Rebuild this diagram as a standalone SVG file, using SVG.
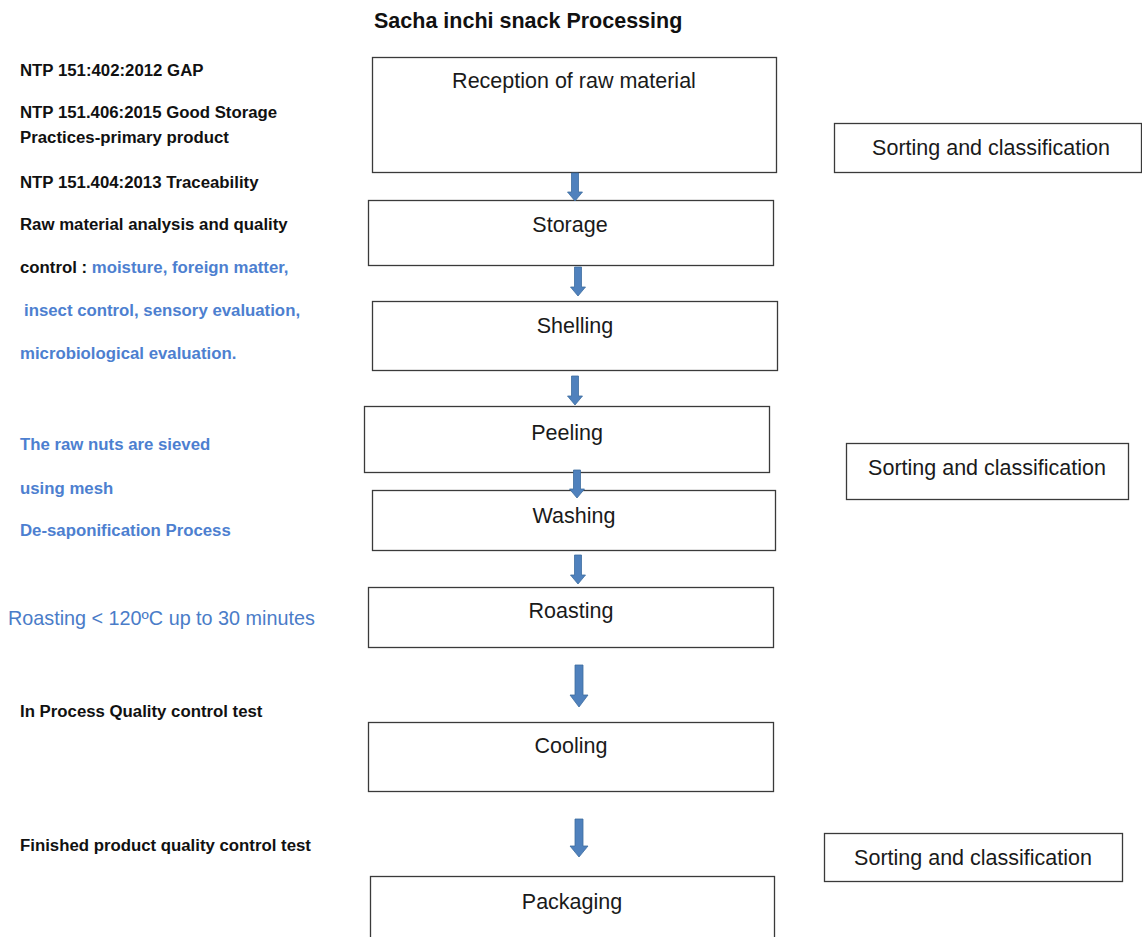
<svg xmlns="http://www.w3.org/2000/svg" width="1142" height="937" viewBox="0 0 1142 937">
<style>
.box{fill:#fff;stroke:#3a3a3a;stroke-width:1.3}
.bt{font-family:"Liberation Sans",Arial,sans-serif;font-size:21.5px;fill:#1a1a1a;text-anchor:middle}
.st{font-family:"Liberation Sans",Arial,sans-serif;font-size:21.5px;fill:#1a1a1a;text-anchor:middle}
.lb{font-family:"Liberation Sans",Arial,sans-serif;font-size:16.8px;font-weight:bold;fill:#111}
.blue{fill:#4d7fd0}
.arr{fill:#4f81bd;stroke:#3d6d9f;stroke-width:0.8}
.title{font-family:"Liberation Sans",Arial,sans-serif;font-size:21.5px;font-weight:bold;fill:#111}
</style>
<rect width="1142" height="937" fill="#fff"/>
<text class="title" x="374" y="28">Sacha inchi snack Processing</text>

<g id="reception"><rect class="box" x="372.5" y="57.5" width="404" height="115"/><text class="bt" x="574" y="88">Reception of raw material</text></g>
<g id="storage"><rect class="box" x="368.5" y="200.5" width="405" height="65"/><text class="bt" x="570" y="232">Storage</text></g>
<g id="shelling"><rect class="box" x="372.5" y="301.5" width="405" height="69"/><text class="bt" x="575" y="333">Shelling</text></g>
<g id="peeling"><rect class="box" x="364.5" y="406.5" width="405" height="66"/><text class="bt" x="567" y="440">Peeling</text></g>
<g id="washing"><rect class="box" x="372.5" y="490.5" width="403" height="60"/><text class="bt" x="574" y="523">Washing</text></g>
<g id="roasting"><rect class="box" x="368.5" y="587.5" width="405" height="60"/><text class="bt" x="571" y="618">Roasting</text></g>
<g id="cooling"><rect class="box" x="368.5" y="722.5" width="405" height="69"/><text class="bt" x="571" y="753">Cooling</text></g>
<g id="packaging"><rect class="box" x="370.5" y="876.5" width="404" height="70"/><text class="bt" x="572" y="909">Packaging</text></g>

<g id="sorting1"><rect class="box" x="834.5" y="123.5" width="307" height="49"/><text class="st" x="991" y="155">Sorting and classification</text></g>
<g id="sorting2"><rect class="box" x="846.5" y="443.5" width="282" height="56"/><text class="st" x="987" y="475">Sorting and classification</text></g>
<g id="sorting3"><rect class="box" x="824.5" y="833.5" width="298" height="48"/><text class="st" x="973" y="865">Sorting and classification</text></g>

<g id="connectors">
<path class="arr" d="M571.5,173 H578.5 V192 H582.5 L575,201 L567.5,192 H571.5 Z"/>
<path class="arr" d="M574.5,267 H581.5 V287 H585.5 L578,296 L570.5,287 H574.5 Z"/>
<path class="arr" d="M571.5,376 H578.5 V396 H582.5 L575,405 L567.5,396 H571.5 Z"/>
<path class="arr" d="M573.5,470 H580.5 V489 H584.5 L577,498 L569.5,489 H573.5 Z"/>
<path class="arr" d="M574.5,555 H581.5 V575 H585.5 L578,584 L570.5,575 H574.5 Z"/>
<path class="arr" d="M575,665 H583 V695 H588 L579,707 L570,695 H575 Z"/>
<path class="arr" d="M575,819 H583 V846 H588 L579,857 L570,846 H575 Z"/>
</g>

<g id="notes">
<text class="lb" x="20" y="76">NTP 151:402:2012 GAP</text>
<text class="lb" x="20" y="118">NTP 151.406:2015 Good Storage</text>
<text class="lb" x="20" y="143">Practices-primary product</text>
<text class="lb" x="20" y="188">NTP 151.404:2013 Traceability</text>
<text class="lb" x="20" y="230">Raw material analysis and quality</text>
<text class="lb" x="20" y="273">control : <tspan class="blue">moisture, foreign matter,</tspan></text>
<text class="lb blue" x="24" y="316">insect control, sensory evaluation,</text>
<text class="lb blue" x="20" y="359">microbiological evaluation.</text>
<text class="lb blue" x="20" y="450">The raw nuts are sieved</text>
<text class="lb blue" x="20" y="494">using mesh</text>
<text class="lb blue" x="20" y="536">De-saponification Process</text>
<text x="8" y="625" font-family="Liberation Sans,Arial,sans-serif" font-size="19.8px" fill="#4a7cc8">Roasting &lt; 120ºC up to 30 minutes</text>
<text class="lb" x="20" y="717">In Process Quality control test</text>
<text class="lb" x="20" y="851">Finished product quality control test</text>
</g>
</svg>
